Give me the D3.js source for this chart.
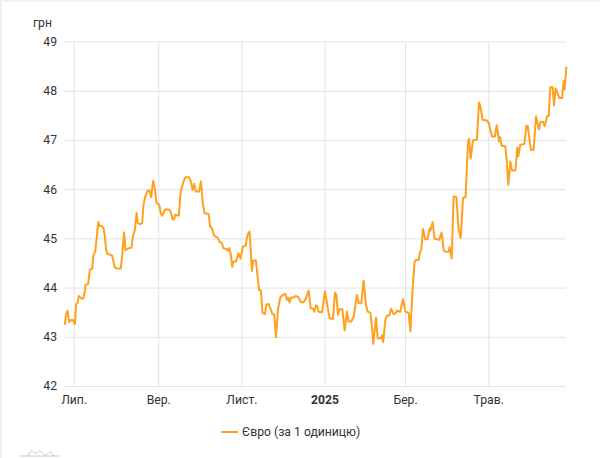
<!DOCTYPE html>
<html><head><meta charset="utf-8">
<script src="https://cdn.jsdelivr.net/npm/d3@7/dist/d3.min.js"></script>
<style>
html,body{margin:0;padding:0;background:#fff}
svg{display:block}
text{font-family:Roboto,sans-serif}
</style></head><body>
<svg id="c" width="600" height="458"></svg>
<script>
const seriesName="Євро (за 1 одиницю)";
const unitLabel="грн";
const yTicks=[42,43,44,45,46,47,48,49];
const tickDates=["2024-07-01","2024-09-01","2024-11-01","2025-01-01","2025-03-01","2025-05-01"];
const tickLabels=["Лип.","Вер.","Лист.","2025","Бер.","Трав."];
// days since 2024-07-01
const days=[-6.5,-5.7,-4.5,-3.3,-1.8,-0.6,0.9,1.8,2.8,3.8,5.3,7,7.9,8.7,10.6,11.9,13.6,14.5,15.8,17,18,19,20.7,21.9,22.9,23.8,25,26.8,28.2,29.2,30.2,32.2,34.6,35.8,37,38,39,40.5,42.4,43.6,44.9,46.1,47.1,48.8,50.2,51.2,52.4,54.2,55.6,56.8,58.3,59.5,60.8,62.7,63.9,64.9,66.4,67.4,70.3,71.5,72.7,73.7,74.4,77.1,78.1,78.8,80.6,82,84.5,85.9,87.2,88.4,89.6,92,93.3,94.7,96,98.9,100.1,101.3,103,105.5,107,108.7,109.9,112.4,113.1,114.1,115.3,116.3,117.2,119.2,120.7,122.4,124.1,126,127.5,129,130.7,131.7,133.6,
134.9,135.9,137.3,138.5,140.3,141.2,143,144.2,145.6,147.1,148.3,149.8,151.5,153.2,155.2,156.4,157.1,158.4,159.3,161.3,162.8,165,166.7,168.6,170.3,172.3,173.8,175.5,176.4,177.7,178.4,179.6,182.1,184.3,186.2,187.7,190.1,191.6,192.6,193.8,195,197,198.7,200.4,201.6,203.6,205.3,207.7,209.2,210.9,212.6,214.3,215.6,217.5,218.7,219.7,221.7,222.9,225.3,226.1,227,228.5,229.7,231.5,232.7,234.6,236.1,237.1,239.5,241.5,243.2,245.6,246.9,248.8,250,251,
252.9,254.2,254.9,256.1,257.8,259.5,261,261.7,263.2,264.7,268.1,269.8,271.3,272.5,275,275.7,277.2,278.6,280.6,282.3,283.8,285.5,287.4,289.1,289.9,291.1,292.8,295.7,297.2,298.2,299.9,302.6,304.3,306.7,308.9,310.2,311.9,312.6,313.8,316.5,317.5,318.7,320.2,321.4,323.9,325.3,326,327.5,330.5,331.9,332.9,335.3,337.3,339,341.2,342.2,344.1,345.4,347.1,348.3,349.5,351.2,352.2,353.4,356.1,358.1,359.3,360,361.3];
const rates=[43.24,43.44,43.53,43.30,43.34,43.34,43.26,43.66,43.69,43.83,43.78,43.78,43.88,44.06,44.07,44.37,44.38,44.66,44.73,45.04,45.33,45.25,45.25,45.21,45.04,44.76,44.68,44.67,44.65,44.53,44.40,44.39,44.39,44.73,45.12,44.76,44.78,44.80,44.81,45.07,45.17,45.52,45.31,45.29,45.31,45.68,45.84,45.97,45.97,45.84,46.17,46.02,45.71,45.69,45.51,45.46,45.55,45.59,45.58,45.51,45.38,45.39,45.48,45.46,45.85,45.98,46.16,46.24,46.24,46.16,45.98,46.11,45.95,45.95,46.16,45.71,45.51,45.50,45.24,45.21,45.05,45.02,44.93,44.90,44.80,44.78,44.75,44.80,44.66,44.42,44.53,44.53,44.70,44.59,44.83,44.85,45.07,45.14,44.34,44.55,44.55,
44.22,43.95,43.94,43.48,43.46,43.65,43.67,43.58,43.47,43.45,42.99,43.55,43.80,43.85,43.87,43.75,43.80,43.70,43.80,43.80,43.83,43.80,43.70,43.70,43.78,43.94,43.58,43.57,43.51,43.64,43.63,43.51,43.50,43.92,43.61,43.38,43.36,43.90,43.85,43.45,43.56,43.56,43.13,43.51,43.31,43.31,43.41,43.85,43.68,43.68,44.14,43.65,43.51,43.49,43.21,42.86,43.39,42.97,42.97,43.03,42.89,43.34,43.43,43.43,43.57,43.46,43.48,43.53,43.51,43.77,43.51,43.49,43.11,44.09,44.53,44.56,
44.56,44.74,44.76,45.19,44.98,44.98,45.20,45.16,45.33,44.99,44.97,45.12,44.76,44.73,44.73,44.82,44.59,45.85,45.84,45.17,45.01,45.82,45.84,46.94,47.02,46.62,46.99,47.01,47.76,47.69,47.41,47.40,47.35,47.07,47.07,47.30,46.97,47.06,46.88,46.87,46.60,46.09,46.56,46.38,46.38,46.84,46.67,46.90,46.92,47.28,47.29,46.80,46.80,47.48,47.21,47.36,47.37,47.28,47.48,47.49,48.07,48.07,47.70,48.05,47.85,47.85,48.20,48.03,48.49];
const logoShape=[0,0,0.25,0.9,0.55,0,0.8,0.75,1.1,0.25,1.4,0,1.65,0.7,1.9,0];

if(days.length!==rates.length) throw new Error("len "+days.length+" vs "+rates.length);
const origin=new Date(Date.UTC(2024,6,1));
const toDate=d=>new Date(+origin+d*864e5);
const data=days.map((d,i)=>({date:toDate(d),v:rates[i]}));

const svg=d3.select("#c");
const plotLeft=64,plotRight=566,plotTop=41.5,plotBottom=386;
const x=d3.scaleUtc().domain(d3.extent(data,d=>d.date)).range([64.8,566.4]);
const y=d3.scaleLinear().domain([42,49]).range([plotBottom,plotTop]);

svg.append("rect").attr("x",0).attr("y",0).attr("width",600).attr("height",1.5).attr("fill","#f0f0f0");
svg.append("rect").attr("x",0).attr("y",0).attr("width",2).attr("height",458).attr("fill","#f0f0f0");

const tickDs=tickDates.map(s=>new Date(s+"T00:00:00Z"));
const xAxis=d3.axisBottom(x).tickValues(tickDs).tickSize(-(plotBottom-plotTop)).tickPadding(9)
  .tickFormat((d,i)=>tickLabels[i]);
const gx=svg.append("g").attr("transform",`translate(0,${plotBottom})`).call(xAxis);
gx.select(".domain").remove();
gx.selectAll("line").attr("stroke","#e3e3e3");
gx.selectAll("text").attr("fill","#333").style("font-size","12.2px")
  .style("font-weight",(d,i)=>tickLabels[i]==="2025"?"700":"400");

const yAxis=d3.axisLeft(y).tickValues(yTicks).tickSize(-(plotRight-plotLeft)).tickPadding(7).tickFormat(d3.format("d"));
const gy=svg.append("g").attr("transform",`translate(${plotLeft},0)`).call(yAxis);
gy.select(".domain").remove();
gy.selectAll("line").attr("stroke","#e3e3e3");
gy.selectAll("text").attr("fill","#333").style("font-size","12.2px");

svg.append("text").attr("x",33).attr("y",27).attr("fill","#333").style("font-size","12.2px").text(unitLabel);

const line=d3.line().x(d=>x(d.date)).y(d=>y(d.v));
svg.append("path").datum(data).attr("fill","none").attr("stroke","#ffa01e").attr("stroke-width",2)
  .attr("stroke-linejoin","round").attr("d",line);

svg.append("line").attr("x1",221).attr("x2",238).attr("y1",432).attr("y2",432).attr("stroke","#ffa01e").attr("stroke-width",2);
svg.append("text").attr("x",242).attr("y",436).attr("fill","#333").style("font-size","12.2px").text(seriesName);

// small gray watermark
const lx=d3.scaleLinear().domain([0,2]).range([28,55]);
const ly=d3.scaleLinear().domain([0,1]).range([456,447]);
const pts=d3.range(0,logoShape.length,2).map(i=>[logoShape[i],logoShape[i+1]]);
svg.append("path").datum(pts).attr("fill","none").attr("stroke","#bbb").attr("stroke-width",0.8)
  .attr("d",d3.line().x(d=>lx(d[0])).y(d=>ly(d[1])).curve(d3.curveBasis));
svg.append("line").attr("x1",19).attr("x2",60).attr("y1",456).attr("y2",456).attr("stroke","#bbb").attr("stroke-width",0.8);
</script></body></html>
